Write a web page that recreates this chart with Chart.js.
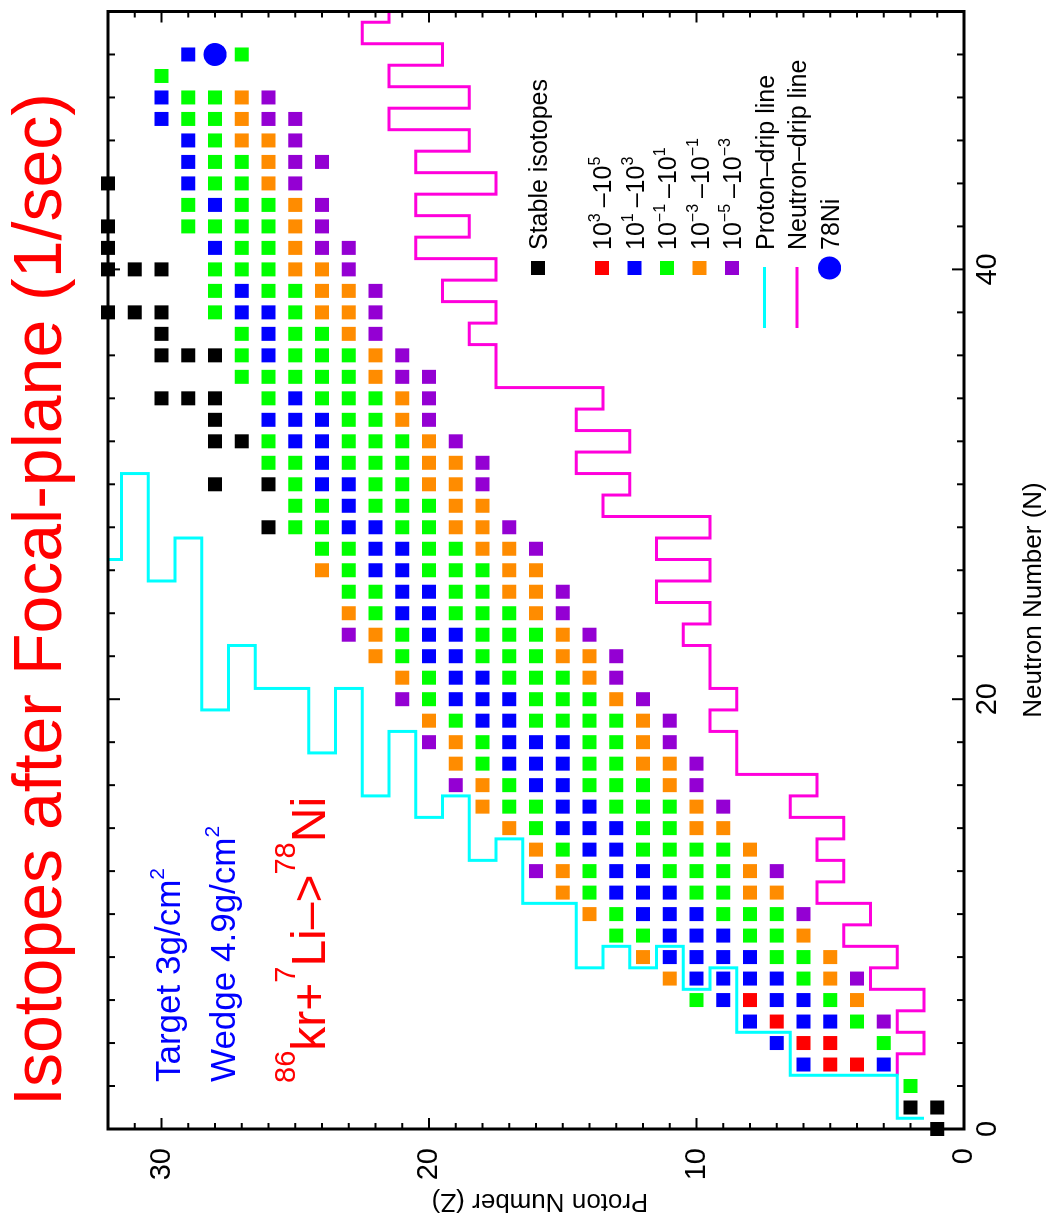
<!DOCTYPE html>
<html>
<head>
<meta charset="utf-8">
<title>Isotopes after Focal-plane (1/sec)</title>
<script src="https://cdn.jsdelivr.net/npm/chart.js@4.4.1/dist/chart.umd.min.js"></script>
<style>
html, body { margin:0; padding:0; background:#ffffff; width:1050px; height:1230px; overflow:hidden; }
#frame { position:absolute; left:0; top:0; width:1230px; height:1050px; transform-origin:0 0; transform: translate(0px,1230px) rotate(-90deg); }
canvas { display:block; }
</style>
</head>
<body>
<div id="frame"><canvas id="chart" width="1230" height="1050"></canvas></div>
<script>
// ---------------- data (pairs are [N, Z]) ----------------
const nTickLabels = [0, 20, 40];
const zTickLabels = [0, 10, 20, 30];
const nRange = [0, 52];
const zRange = [0, 32];

const stableIsotopes = [[0,1],[1,1],[1,2],[28,26],[30,26],[30,28],[32,27],[32,28],[33,28],[34,28],[34,29],[34,30],[36,28],[36,29],[36,30],[37,30],[38,30],[38,31],[38,32],[40,30],[40,31],[40,32],[41,32],[42,32],[44,32]];

const rate1e3to1e5 = [[3,4],[3,5],[4,5],[4,6],[5,7],[6,8]];

const rate1e1to1e3 = [[3,3],[3,6],[4,7],[5,5],[5,6],[5,8],[6,6],[6,7],[6,9],[7,7],[7,8],[7,9],[7,10],[8,8],[8,9],[8,10],[8,11],[9,9],[9,10],[9,11],[10,10],[10,11],[10,12],[11,11],[11,12],[11,13],[12,12],[12,13],[13,13],[13,14],[14,13],[14,14],[14,15],[15,14],[15,15],[16,15],[16,16],[17,15],[17,16],[17,17],[18,15],[18,16],[18,17],[19,17],[19,18],[20,17],[20,18],[20,19],[21,18],[21,19],[22,19],[22,20],[23,19],[23,20],[24,20],[24,21],[25,20],[25,21],[26,21],[26,22],[27,21],[27,22],[28,22],[28,23],[29,23],[30,23],[30,24],[31,24],[32,24],[32,25],[33,24],[33,25],[33,26],[34,25],[36,26],[37,26],[38,26],[38,27],[39,27],[41,28],[43,28],[44,29],[45,29],[46,29],[47,30],[48,30],[50,29]];

const rate1em1to1e1 = [[2,2],[4,3],[5,4],[6,5],[6,10],[7,6],[8,6],[8,7],[9,7],[9,8],[9,12],[9,13],[10,7],[10,8],[10,9],[10,13],[11,9],[11,10],[11,14],[12,9],[12,10],[12,11],[12,14],[13,9],[13,10],[13,11],[13,12],[13,15],[14,11],[14,12],[14,16],[15,11],[15,12],[15,13],[15,16],[15,17],[16,12],[16,13],[16,14],[16,17],[17,13],[17,14],[17,18],[18,13],[18,14],[18,18],[19,13],[19,14],[19,15],[19,16],[19,19],[20,14],[20,15],[20,16],[20,20],[21,15],[21,16],[21,17],[21,20],[22,16],[22,17],[22,18],[22,21],[23,16],[23,17],[23,18],[23,21],[24,17],[24,18],[24,19],[24,22],[25,18],[25,19],[25,22],[25,23],[26,18],[26,19],[26,20],[26,23],[27,19],[27,20],[27,23],[27,24],[28,20],[28,21],[28,24],[28,25],[29,20],[29,21],[29,22],[29,24],[29,25],[30,21],[30,22],[30,25],[31,21],[31,22],[31,23],[31,25],[31,26],[32,21],[32,22],[32,23],[32,26],[33,22],[33,23],[34,22],[34,23],[34,24],[34,26],[35,23],[35,24],[35,25],[35,26],[35,27],[36,23],[36,24],[36,25],[36,27],[37,24],[37,25],[37,27],[38,25],[38,28],[39,25],[39,26],[39,28],[40,26],[40,27],[40,28],[41,26],[41,27],[42,26],[42,27],[42,28],[42,29],[43,26],[43,27],[43,29],[44,27],[44,28],[45,27],[45,28],[46,28],[47,28],[47,29],[48,28],[48,29],[49,30],[50,27]];

const rate1em3to1em1 = [[6,4],[7,5],[7,11],[8,5],[8,12],[9,6],[10,14],[11,7],[11,8],[11,15],[12,8],[12,15],[13,8],[13,16],[14,9],[14,10],[14,17],[15,10],[15,18],[16,11],[16,18],[17,11],[17,12],[17,19],[18,12],[18,19],[19,12],[19,20],[20,13],[21,14],[21,21],[22,14],[22,15],[22,22],[23,15],[23,22],[24,16],[24,23],[25,16],[25,17],[26,16],[26,17],[26,24],[27,17],[27,18],[28,18],[28,19],[29,18],[29,19],[30,19],[30,20],[31,19],[31,20],[32,20],[33,21],[34,21],[35,22],[36,22],[37,23],[38,23],[38,24],[39,23],[39,24],[40,24],[40,25],[41,25],[42,25],[43,25],[44,26],[45,26],[46,26],[46,27],[47,27],[48,27]];

const rate1em5to1em3 = [[5,3],[7,4],[10,6],[12,7],[12,16],[15,9],[16,10],[16,19],[17,10],[18,11],[18,20],[19,11],[20,12],[20,21],[21,13],[22,13],[23,14],[23,23],[24,15],[25,15],[27,16],[28,17],[30,18],[31,18],[32,19],[33,20],[34,20],[35,20],[35,21],[36,21],[37,22],[38,22],[39,22],[40,23],[41,23],[41,24],[42,24],[43,24],[44,25],[45,24],[45,25],[46,25],[47,25],[47,26],[48,26]];

const ni78 = [[50,28]];

// proton drip line: for each Z (from 2) the N edge of the line
const protonDripStartZ = 2;
const protonDripN = [0.5,2.5,2.5,2.5,2.5,4.5,4.5,7.5,6.5,8.5,7.5,8.5,7.5,10.5,10.5,13.5,12.5,15.5,14.5,18.5,15.5,20.5,17.5,20.5,20.5,22.5,19.5,27.5,25.5,30.5,26.5];

// neutron drip line: for each N (from 3) the Z edge of the line
const neutronDripStartN = 3;
const neutronDripZ = [2.5,1.5,2.5,1.5,3.5,2.5,4.5,3.5,5.5,4.5,5.5,4.5,6.5,5.5,8.5,8.5,9.5,8.5,9.5,9.5,10.5,9.5,11.5,9.5,11.5,9.5,13.5,12.5,14.5,12.5,14.5,13.5,17.5,17.5,18.5,17.5,19.5,17.5,20.5,18.5,20.5,17.5,20.5,18.5,21.5,18.5,21.5,19.5,22.5,21.5];

// ---------------- styling ----------------
const FONT = "'Liberation Sans', Arial, Helvetica, sans-serif";
const COL = { stable:'#000000', red:'#ff0000', blue:'#0000ff', green:'#00ff00', orange:'#ff8c00', purple:'#9400d3', cyan:'#00ffff', magenta:'#ff00dc' };
const SQ_R = 9.9; // rect point radius -> 14px square

const toPts = arr => arr.map(([n, z]) => ({ x: n, y: z }));
function squares(label, data, color) {
  return { label, data: toPts(data), backgroundColor: color, borderColor: color, borderWidth: 0,
    pointStyle: 'rect', pointRadius: SQ_R, pointHoverRadius: SQ_R, showLine: false, clip: false };
}
const cyanPts = [];
protonDripN.forEach((n, i) => { const z = protonDripStartZ + i; cyanPts.push({ x: n, y: z - 0.5 }, { x: n, y: z + 0.5 }); });
const magPts = [];
neutronDripZ.forEach((z, i) => { const n = neutronDripStartN + i; magPts.push({ x: n - 0.5, y: z }, { x: n + 0.5, y: z }); });

function rich(ctx, x, y, parts) {
  let cx = x;
  for (const p of parts) {
    ctx.font = p.s + 'px ' + FONT;
    ctx.fillText(p.t, cx, y - (p.r || 0));
    cx += ctx.measureText(p.t).width + (p.g || 0);
  }
}

const decor = {
  id: 'decor',
  afterDraw(chart) {
    const ctx = chart.ctx, a = chart.chartArea, xs = chart.scales.x, ys = chart.scales.y;
    ctx.save();
    // ticks (inward, all four sides)
    ctx.strokeStyle = '#000'; ctx.lineWidth = 2; ctx.lineCap = 'butt';
    const seg = (x1, y1, x2, y2) => { ctx.beginPath(); ctx.moveTo(x1, y1); ctx.lineTo(x2, y2); ctx.stroke(); };
    for (let n = nRange[0]; n <= nRange[1]; n += 2) {
      const p = xs.getPixelForValue(n); const L = nTickLabels.includes(n) ? 12 : 7;
      seg(p, a.bottom, p, a.bottom - L); seg(p, a.top, p, a.top + L);
    }
    for (let z = zRange[0]; z <= zRange[1]; z += 1) {
      const p = ys.getPixelForValue(z); const L = zTickLabels.includes(z) ? 11 : 6;
      seg(a.left, p, a.left + L, p); seg(a.right, p, a.right - L, p);
    }
    ctx.lineWidth = 3;
    ctx.strokeRect(a.left, a.top, a.right - a.left, a.bottom - a.top);

    ctx.textBaseline = 'alphabetic'; ctx.textAlign = 'left';
    // main title
    ctx.fillStyle = '#ff0000';
    ctx.font = '68px ' + FONT;
    ctx.fillText('Isotopes after Focal-plane (1/sec)', 124, 61);
    // annotations
    ctx.fillStyle = '#0000ff';
    rich(ctx, 148, 180, [{ t: 'Target 3g/cm', s: 35 }, { t: '2', s: 21, r: 16 }]);
    rich(ctx, 148, 235, [{ t: 'Wedge 4.9g/cm', s: 35 }, { t: '2', s: 21, r: 16 }]);
    ctx.fillStyle = '#ff0000';
    rich(ctx, 147, 325, [{ t: '86', s: 29, r: 30 }, { t: 'kr+', s: 48 }, { t: '7', s: 29, r: 30 }, { t: 'Li\u2013>', s: 48 }, { t: '78', s: 29, r: 30 }, { t: 'Ni', s: 48 }]);
    // axis titles
    ctx.fillStyle = '#000';
    ctx.font = '26px ' + FONT; ctx.textAlign = 'center';
    ctx.fillText('Neutron Number (N)', 630, 1041);
    ctx.save(); ctx.translate(36, 540); ctx.rotate(-Math.PI / 2);
    ctx.fillText('Proton Number (Z)', 0, 0); ctx.restore();
    ctx.textAlign = 'left';
    // legend
    const mu = 962, tu = 980, LS = 25, SS = 16, SR = 11;
    const rows = [
      { v: 538, kind: 'sq', c: COL.stable, parts: [{ t: 'Stable isotopes', s: LS }] },
      { v: 602, kind: 'sq', c: COL.red, parts: [{ t: '10', s: LS }, { t: '3', s: SS, r: SR, g: 6 }, { t: '\u201310', s: LS }, { t: '5', s: SS, r: SR }] },
      { v: 634.5, kind: 'sq', c: COL.blue, parts: [{ t: '10', s: LS }, { t: '1', s: SS, r: SR, g: 6 }, { t: '\u201310', s: LS }, { t: '3', s: SS, r: SR }] },
      { v: 667, kind: 'sq', c: COL.green, parts: [{ t: '10', s: LS }, { t: '\u22121', s: SS, r: SR, g: 6 }, { t: '\u201310', s: LS }, { t: '1', s: SS, r: SR }] },
      { v: 699.5, kind: 'sq', c: COL.orange, parts: [{ t: '10', s: LS }, { t: '\u22123', s: SS, r: SR, g: 6 }, { t: '\u201310', s: LS }, { t: '\u22121', s: SS, r: SR }] },
      { v: 732, kind: 'sq', c: COL.purple, parts: [{ t: '10', s: LS }, { t: '\u22125', s: SS, r: SR, g: 6 }, { t: '\u201310', s: LS }, { t: '\u22123', s: SS, r: SR }] },
      { v: 764.5, kind: 'ln', c: COL.cyan, parts: [{ t: 'Proton\u2013drip line', s: LS }] },
      { v: 797, kind: 'ln', c: COL.magenta, parts: [{ t: 'Neutron\u2013drip line', s: LS }] },
      { v: 829.5, kind: 'ci', c: COL.blue, parts: [{ t: '78Ni', s: LS }] }
    ];
    for (const r of rows) {
      if (r.kind === 'sq') { ctx.fillStyle = r.c; ctx.fillRect(mu - 7, r.v - 7, 14, 14); }
      else if (r.kind === 'ln') { ctx.strokeStyle = r.c; ctx.lineWidth = 3; seg(902, r.v, 963, r.v); }
      else { ctx.fillStyle = r.c; ctx.beginPath(); ctx.arc(mu, r.v, 11.5, 0, Math.PI * 2); ctx.fill(); }
      ctx.fillStyle = '#000';
      rich(ctx, tu, r.v + 9, r.parts);
    }
    ctx.restore();
  }
};

new Chart(document.getElementById('chart'), {
  type: 'scatter',
  data: {
    datasets: [
      squares('Stable isotopes', stableIsotopes, COL.stable),
      squares('10^3 - 10^5', rate1e3to1e5, COL.red),
      squares('10^1 - 10^3', rate1e1to1e3, COL.blue),
      squares('10^-1 - 10^1', rate1em1to1e1, COL.green),
      squares('10^-3 - 10^-1', rate1em3to1em1, COL.orange),
      squares('10^-5 - 10^-3', rate1em5to1em3, COL.purple),
      { label: '78Ni', data: toPts(ni78), backgroundColor: COL.blue, borderWidth: 0, pointStyle: 'circle', pointRadius: 11.5, showLine: false, clip: false },
      { label: 'Proton-drip line', data: cyanPts, showLine: true, borderColor: COL.cyan, borderWidth: 3, pointRadius: 0, tension: 0, fill: false },
      { label: 'Neutron-drip line', data: magPts, showLine: true, borderColor: COL.magenta, borderWidth: 3, pointRadius: 0, tension: 0, fill: false }
    ]
  },
  options: {
    responsive: false,
    devicePixelRatio: 1,
    animation: false,
    events: [],
    layout: { padding: { top: 108, right: 8, left: 0, bottom: 0 } },
    plugins: { legend: { display: false }, tooltip: { enabled: false }, title: { display: false } },
    scales: {
      x: {
        type: 'linear', position: 'bottom', min: nRange[0], max: nRange[1],
        afterBuildTicks: s => { s.ticks = nTickLabels.map(v => ({ value: v })); },
        afterFit: s => { s.height = 86; },
        grid: { display: false, drawTicks: false },
        border: { display: false },
        ticks: { padding: 7, color: '#000', font: { family: FONT, size: 29 }, maxRotation: 0, autoSkip: false }
      },
      y: {
        type: 'linear', position: 'left', min: zRange[0], max: zRange[1],
        afterBuildTicks: s => { s.ticks = zTickLabels.map(v => ({ value: v })); },
        afterFit: s => { s.width = 101; },
        grid: { display: false, drawTicks: false },
        border: { display: false },
        ticks: { padding: 19, color: '#000', font: { family: FONT, size: 29 }, autoSkip: false }
      }
    }
  },
  plugins: [decor]
});
</script>
</body>
</html>
